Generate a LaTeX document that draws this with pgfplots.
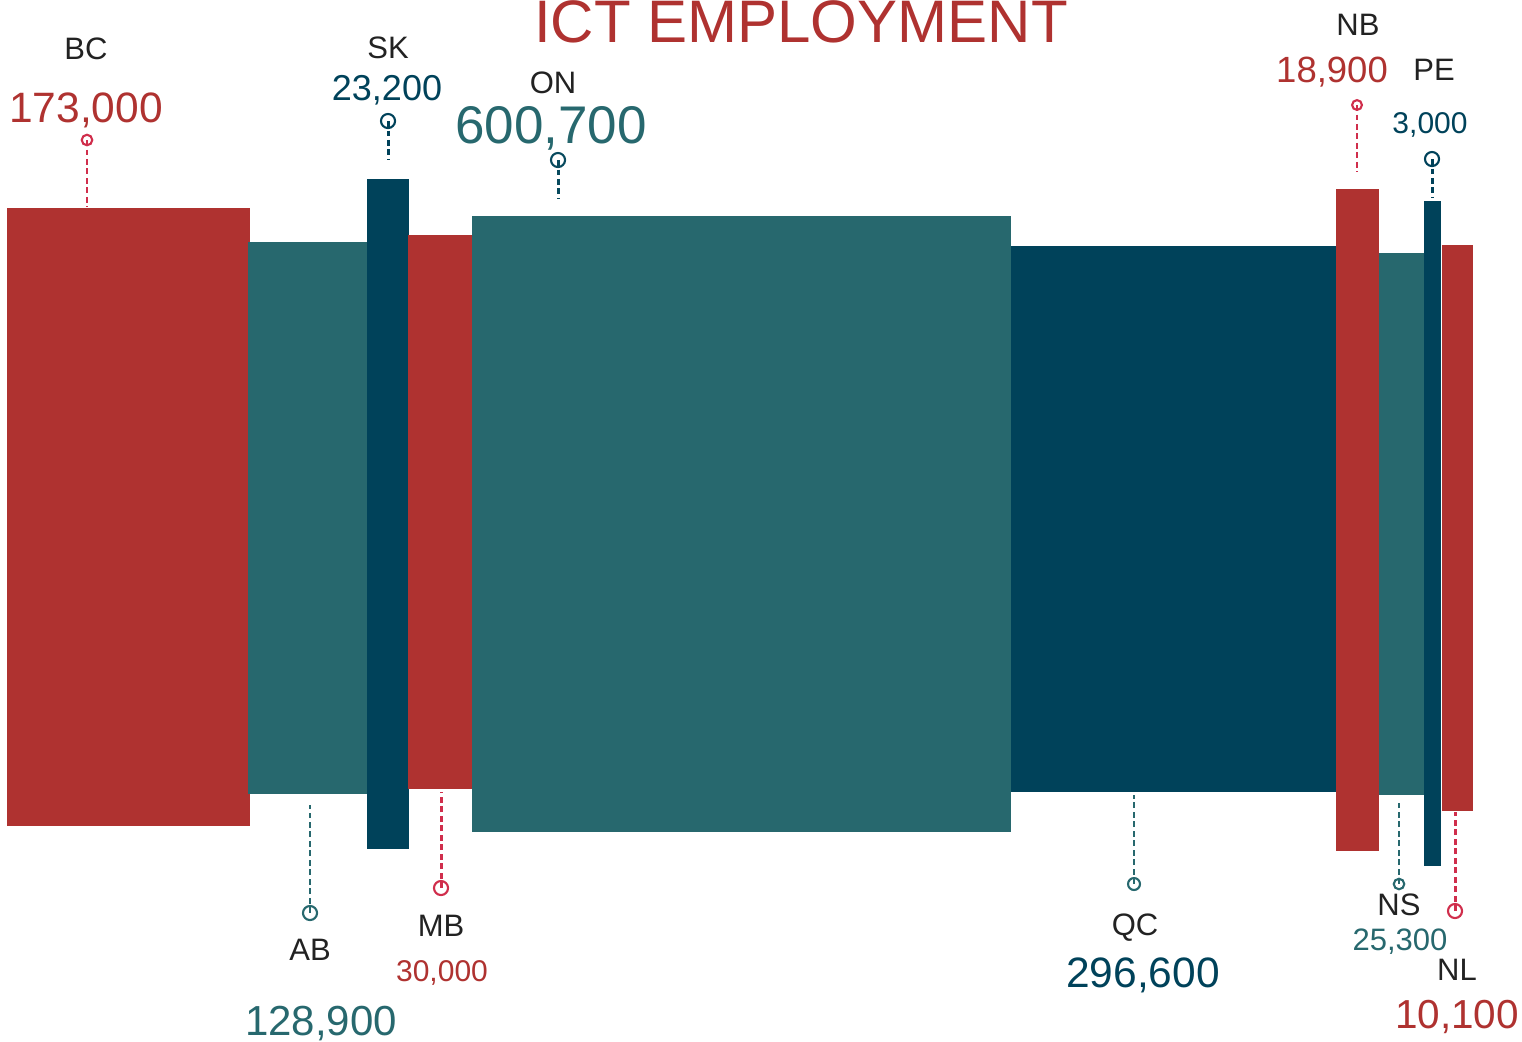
\documentclass[border=0pt]{standalone}
\usepackage{pgfplots}
\pgfplotsset{compat=1.18}
\usepackage{fontspec}
\setmainfont{Liberation Sans}

\definecolor{barred}{HTML}{AF3230}
\definecolor{barteal}{HTML}{27686E}
\definecolor{barblue}{HTML}{00425A}
\definecolor{pinkred}{HTML}{D02E4C}
\definecolor{labelgrey}{HTML}{222222}

% sizes given in reference pixels (1px = 0.1mm)
\newcommand{\px}[1]{\fontsize{\fpeval{#1*0.28453}pt}{\fpeval{#1*0.3}pt}\selectfont}

\tikzset{
  prov/.style={anchor=base, text=labelgrey, font=\px{31}},
  val/.style={anchor=base, font=\px{#1}},
}
\pgfplotsset{
  bar/.style={fill=#1, draw=none, forget plot},
  lead/.style={color=#1, forget plot, line width=0.6pt,
    dash pattern=on 1.6pt off 1.1pt,
    mark=o, mark indices={1}, mark options={solid, fill=white, line width=0.6pt}},
}

\begin{document}
\begin{tikzpicture}
\begin{axis}[
  scale only axis, width=15.22cm, height=10.41cm,
  xmin=0, xmax=1522, ymin=0, ymax=1041, y dir=reverse,
  hide axis, clip=false,
]
% bars: x from, x to, top, bottom
\addplot[bar=barred]  coordinates {(7,208)(250,208)(250,826)(7,826)} -- cycle;      % BC
\addplot[bar=barteal] coordinates {(248,242)(368,242)(368,794)(248,794)} -- cycle;  % AB
\addplot[bar=barblue] coordinates {(367,179)(409,179)(409,849)(367,849)} -- cycle;  % SK
\addplot[bar=barred]  coordinates {(408,235)(473,235)(473,789)(408,789)} -- cycle;  % MB
\addplot[bar=barteal] coordinates {(472,216)(1011,216)(1011,832)(472,832)} -- cycle; % ON
\addplot[bar=barblue] coordinates {(1011,246)(1336,246)(1336,792)(1011,792)} -- cycle; % QC
\addplot[bar=barred]  coordinates {(1336,189)(1379,189)(1379,851)(1336,851)} -- cycle; % NB
\addplot[bar=barteal] coordinates {(1379,253)(1424,253)(1424,795)(1379,795)} -- cycle; % NS
\addplot[bar=barblue] coordinates {(1424,201)(1441,201)(1441,866)(1424,866)} -- cycle; % PE
\addplot[bar=barred]  coordinates {(1442,245)(1473,245)(1473,811)(1442,811)} -- cycle; % NL

% leader lines, circle end first
\addplot[lead=pinkred, mark size=1.5pt] coordinates {(87,140)(87,207)};
\addplot[lead=barblue, mark size=2pt, line width=0.85pt] coordinates {(388,121)(388,160)};
\addplot[lead=barblue!80!barteal, mark size=2pt, line width=0.85pt] coordinates {(558,160)(558,198)};
\addplot[lead=pinkred, mark size=1.4pt] coordinates {(1357,105)(1357,172)};
\addplot[lead=barblue, mark size=2pt, line width=0.85pt] coordinates {(1432,159)(1432,198)};
\addplot[lead=barteal, mark size=2pt, line width=0.85pt] coordinates {(310,913)(310,805)};
\addplot[lead=pinkred, mark size=2pt, line width=0.85pt] coordinates {(441,888)(441,792)};
\addplot[lead=barteal, mark size=1.7pt] coordinates {(1134,884)(1134,795)};
\addplot[lead=barteal, mark size=1.5pt] coordinates {(1399,884)(1399,803)};
\addplot[lead=pinkred, mark size=2pt, line width=0.85pt] coordinates {(1455,911)(1455,812)};

% title
\node[val=60, text=barred] at (axis cs:801,42) {ICT EMPLOYMENT};

% labels above
\node[prov] at (axis cs:86,59) {BC};
\node[val=42.5, text=barred] at (axis cs:86,122) {173,000};
\node[prov] at (axis cs:388,58) {SK};
\node[val=36, text=barblue] at (axis cs:387,100) {23,200};
\node[prov] at (axis cs:553,93) {ON};
\node[val=53, text=barteal] at (axis cs:551,143) {600,700};
\node[prov] at (axis cs:1358,35) {NB};
\node[val=36.5, text=barred] at (axis cs:1332,82) {18,900};
\node[prov] at (axis cs:1434,80) {PE};
\node[val=30, text=barblue] at (axis cs:1430,133) {3,000};

% labels below
\node[prov] at (axis cs:310,960) {AB};
\node[val=42, text=barteal] at (axis cs:321,1035) {128,900};
\node[prov] at (axis cs:441,936) {MB};
\node[val=30, text=barred] at (axis cs:442,981) {30,000};
\node[prov] at (axis cs:1135,935) {QC};
\node[val=42.5, text=barblue] at (axis cs:1143,987) {296,600};
\node[prov] at (axis cs:1399,915) {NS};
\node[val=31, text=barteal] at (axis cs:1400,950) {25,300};
\node[prov] at (axis cs:1457,980) {NL};
\node[val=40.5, text=barred] at (axis cs:1457,1028) {10,100};
\end{axis}
\pgfresetboundingbox
\path[use as bounding box] (0,0) rectangle (15.22cm,10.41cm);
\end{tikzpicture}
\end{document}
